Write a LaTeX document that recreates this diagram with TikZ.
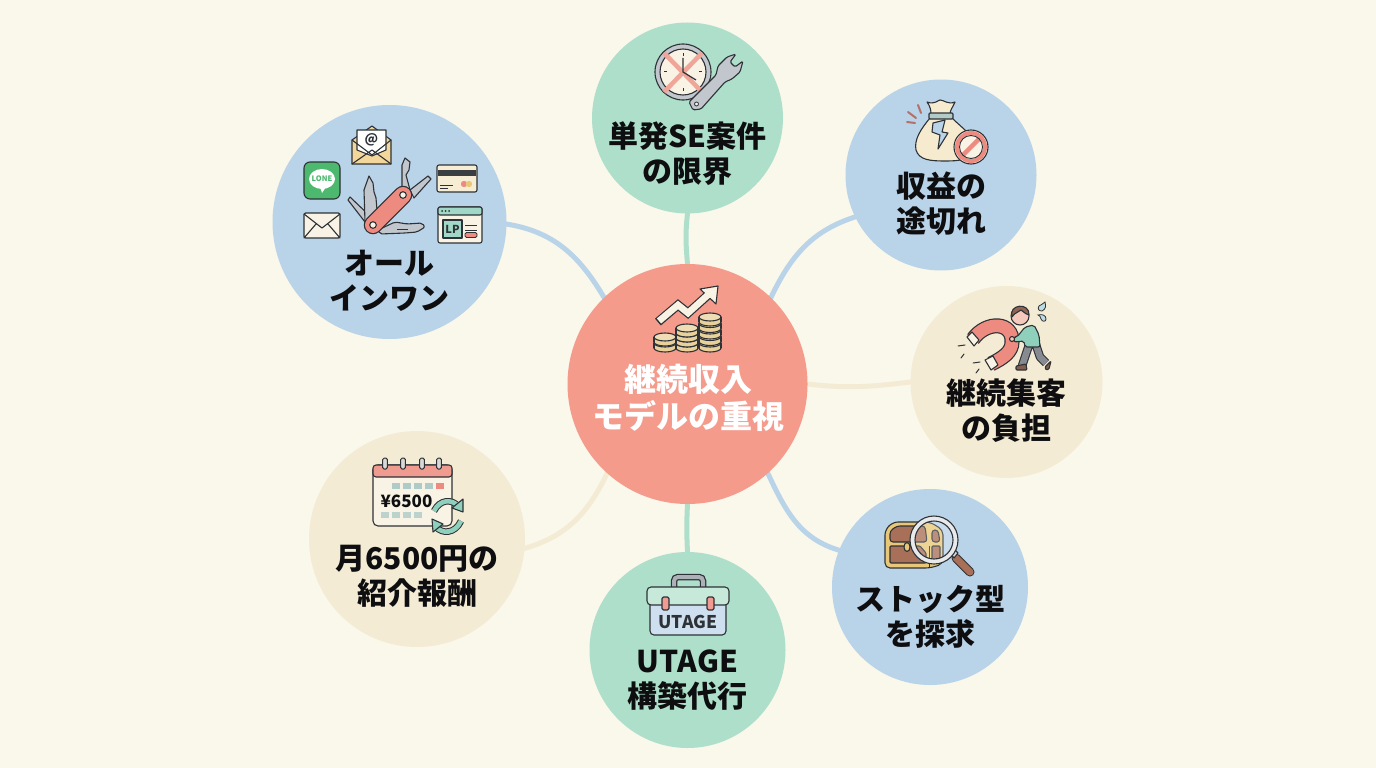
\documentclass[tikz,border=0pt]{standalone}
\usepackage{fontspec}
\setmainfont{Noto Sans CJK JP}
\definecolor{bgc}{HTML}{FAF7EB}
\definecolor{bluec}{HTML}{B9D3E9}
\definecolor{greenc}{HTML}{AEDFCA}
\definecolor{creamc}{HTML}{F4EBD4}
\definecolor{redc}{HTML}{F49B8C}
\definecolor{inkc}{HTML}{2E3236}
\definecolor{txtc}{HTML}{0E0E10}
\definecolor{paper}{HTML}{F8F3E4}
\definecolor{tan}{HTML}{F3D79A}
\definecolor{salmon}{HTML}{EE8B80}
\definecolor{steel}{HTML}{C2C7CE}
\definecolor{gold}{HTML}{E8C878}
\definecolor{coin}{HTML}{E9D19B}
\definecolor{brownc}{HTML}{A87058}
\definecolor{linegreen}{HTML}{4CB96E}
\definecolor{teal}{HTML}{8FD0BC}
\pgfdeclarelayer{back}
\pgfdeclarelayer{lines}
\pgfsetlayers{back,lines,main}
\tikzset{
 hubc/.style={circle,minimum size=#1pt,inner sep=0pt,outer sep=0pt},
 conn/.style={line width=5pt,shorten <=-3pt,shorten >=-3pt},
 lab/.style={font=\fontsize{30}{35}\selectfont\bfseries,text=txtc,align=center,inner sep=0pt},
 ink/.style={draw=inkc,line width=1.1pt,line join=round,line cap=round},
}
% x, top y, number of coins, spacing
\newcommand\coinstack[4]{%
 \foreach \k in {1,...,#3}{%
  \pgfmathsetmacro\yy{#2+(#3-\k)*#4}
  \filldraw[ink,fill=coin] (#1,\yy+5) ellipse [x radius=11pt,y radius=4pt];
  \fill[coin] (#1-10.5,\yy) rectangle (#1+10.5,\yy+5);
  \draw[ink] (#1-11,\yy) -- (#1-11,\yy+5) (#1+11,\yy) -- (#1+11,\yy+5);
  \filldraw[ink,fill=coin!65!paper] (#1,\yy) ellipse [x radius=11pt,y radius=4pt];
 }}
\begin{document}
\begin{tikzpicture}[x=1pt,y=-1pt]
\begin{pgfonlayer}{back}
\path[use as bounding box,fill=bgc] (0,0) rectangle (1376,768);
\end{pgfonlayer}
% circles
\node[hubc=240,fill=redc] (hub) at (687.5,384) {};
\node[hubc=191,fill=greenc] (top) at (687.5,118) {};
\node[hubc=191,fill=bluec] (tr) at (941,175) {};
\node[hubc=192,fill=creamc] (rr) at (1006.5,382) {};
\node[hubc=196,fill=bluec] (br) at (930,587) {};
\node[hubc=196,fill=greenc] (bot) at (687.5,650) {};
\node[hubc=216,fill=creamc] (bl) at (417,539) {};
\node[hubc=234,fill=bluec] (ll) at (389.5,222) {};
% connectors
\begin{pgfonlayer}{lines}
\draw[conn,greenc] (top.-90) to[out=-97,in=95] (hub.90);
\draw[conn,bluec] (tr.206) to[out=197,in=65] (hub.46);
\draw[conn,creamc] (rr.180) to[out=187,in=-7] (hub.0);
\draw[conn,bluec] (br.158) to[out=165,in=-65] (hub.-48);
\draw[conn,greenc] (bot.90) to[out=93,in=-93] (hub.-90);
\draw[conn,creamc] (bl.-5) to[out=15,in=-115] (hub.-132);
\draw[conn,bluec] (ll.-1) to[out=-8,in=120] (hub.134);
\end{pgfonlayer}
% labels
\node[lab,text=white,font=\fontsize{32}{37}\selectfont\bfseries] (t0) at (688,398) {継続収入\\モデルの重視};
\node[lab] (t1) at (687.5,153.5) {単発SE案件\\の限界};
\node[lab] (t2) at (941,203.5) {収益の\\途切れ};
\node[lab] (t3) at (1006,410.5) {継続集客\\の負担};
\node[lab] (t4) at (930,616.5) {ストック型\\を探求};
\node[lab] (t5) at (687.5,680.5) {UTAGE\\構築代行};
\node[lab] (t6) at (417,576.5) {月6500円の\\紹介報酬};
\node[lab] (t7) at (389.5,280.5) {オール\\インワン};

% === coins and arrow
\coinstack{665}{337}{2}{6}
\coinstack{687}{328}{4}{5}
\coinstack{710}{317}{5}{6.5}
\draw[inkc,line width=9pt,line join=miter] (658,322) -- (678,305) -- (688,313) -- (708,295);
\filldraw[ink,fill=paper] (700,289) -- (718,286) -- (716,304) -- cycle;
\draw[paper,line width=6.6pt,line join=miter] (659,321) -- (678,305) -- (688,313) -- (709,294);
\fill[inkc] (655.5,319) -- (660.5,325) -- (661,325) -- (656,319) -- cycle;

% === clock
\filldraw[ink,fill=steel] (683,72) circle (28);
\filldraw[ink,fill=paper] (683,72) circle (23);
\foreach \a/\b/\c/\d in {683/53/683/56,683/88/683/91,664/72/667/72,699/72/702/72}
  \draw[inkc,line width=1pt] (\a,\b) -- (\c,\d);
\draw[salmon!75!paper,line width=4.5pt] (664,53) -- (702,92) (702,53) -- (664,92);
\draw[inkc,line width=1.2pt] (683,58) -- (683,72) -- (696,80);
\filldraw[ink,fill=steel,rounded corners=1.5pt] (689,102) -- (716,75) -- (718,66) -- (727,57) -- (736,54) -- (730,62) -- (735,67) -- (743,61) -- (740,72) -- (732,79) -- (725,82) -- (701,109) -- (693,110) -- cycle;
\filldraw[ink,fill=paper,line width=.8pt] (696.5,104) circle (2);

% === money bag
\filldraw[ink,fill=paper!70!tan] (930,118) .. controls (920,130) and (914,140) .. (916,150) .. controls (919,160) and (930,161) .. (945,161) .. controls (960,161) and (972,160) .. (975,148) .. controls (977,138) and (962,128) .. (952,118) -- cycle;
\filldraw[ink,fill=paper!70!tan] (927,102) .. controls (935,105) and (938,100) .. (940,100) .. controls (944,100) and (948,105) .. (955,102) .. controls (953,107) and (950,110) .. (950,114) -- (931,114) .. controls (931,110) and (930,106) .. (927,102) -- cycle;
\filldraw[ink,fill=steel!70!teal,rounded corners=1pt] (929,113) rectangle (953,119);
\filldraw[ink,fill=bluec] (933,123) -- (945,120) -- (942,132) -- (948,133) -- (938,149) -- (940,135) -- (932,132) -- cycle;
\filldraw[ink,fill=paper] (971,147) circle (17);
\draw[salmon,line width=4pt] (971,147) circle (14);
\draw[salmon,line width=4.5pt] (961,157) -- (981,137);
\draw[inkc,line width=.9pt] (971,147) circle (11.5);
\draw[salmon!70!inkc,line width=2pt,line cap=round] (907,122) -- (915,123) (908,112) -- (916,118) (918,105) -- (921,113);

% === magnet and person
\draw[inkc,line width=15pt] (973,339) .. controls (987,320) and (1013,322) .. (1012,342) .. controls (1012,352) and (1003,358) .. (991,364);
\draw[salmon,line width=12.6pt] (973,339) .. controls (987,320) and (1013,322) .. (1012,342) .. controls (1012,352) and (1003,358) .. (991,364);
\filldraw[ink,fill=paper] (967,337) -- (972,332) -- (979,340) -- (974,346) -- cycle;
\filldraw[ink,fill=paper] (985,360) -- (993,356) -- (998,365) -- (991,370) -- cycle;
\draw[inkc,line width=1pt,line cap=round] (958,346) -- (965,345) (964,354) -- (961,358) (973,363) -- (980,362) (979,369) -- (976,373);
\draw[inkc,line width=8.6pt,line join=round] (1029,345) -- (1025,357) -- (1022,366) (1036,345) -- (1040,357) -- (1046,363);
\draw[steel!60!inkc,line width=6.4pt,line join=round] (1029,345) -- (1025,357) -- (1022,366) (1036,345) -- (1040,357) -- (1046,363);
\filldraw[ink,fill=brownc!70!inkc,rounded corners=1pt] (1016,366) -- (1026,364) -- (1027,370) -- (1016,370) -- cycle;
\filldraw[ink,fill=brownc!70!inkc,rounded corners=1pt] (1045,367) -- (1051,361) -- (1049,369) -- (1046,370) -- cycle;
\filldraw[ink,fill=teal,rounded corners=2pt] (1017,337) -- (1025,327) -- (1034,325) -- (1039,335) -- (1040,347) -- (1025,347) -- (1024,341) -- (1014,342) -- (1014,337) -- cycle;
\filldraw[ink,fill=paper!60!salmon] (1020,316) circle (9);
\filldraw[ink,fill=brownc!80!inkc] (1012,317) .. controls (1008,304) and (1030,302) .. (1029,315) .. controls (1025,314) and (1023,311) .. (1021,310) .. controls (1018,313) and (1015,312) .. (1012,317) -- cycle;
\filldraw[ink,fill=paper!60!salmon] (1012,339) circle (2.5);
\filldraw[draw=inkc,line width=.8pt,fill=teal!30!bluec!80!white] (1039,306) .. controls (1041,304) and (1044,304) .. (1045,302) .. controls (1046,306) and (1046,309) .. (1042,311) .. controls (1039,311) and (1037,309) .. (1039,306) -- cycle;
\filldraw[draw=inkc,line width=.8pt,fill=teal!30!bluec!80!white] (1041,319) .. controls (1040,316) and (1040,316) .. (1038,315) .. controls (1042,314) and (1046,315) .. (1046,319) .. controls (1046,322) and (1042,322) .. (1041,319) -- cycle;

% === chest and magnifier
\filldraw[ink,fill=gold,rounded corners=5pt] (885,568) -- (885,530) -- (893,522) -- (930,522) -- (943,530) -- (943,564) -- (930,568) -- cycle;
\filldraw[ink,fill=brownc,rounded corners=3pt] (890,542) -- (890,531) -- (897,526) -- (925,526) -- (927,542) -- cycle;
\filldraw[ink,fill=brownc,rounded corners=3pt] (932,542) -- (932,530) -- (938,530) -- (940,542) -- cycle;
\filldraw[ink,fill=brownc,rounded corners=1pt] (890,546) -- (920,546) -- (926,553) -- (926,563) -- (890,563) -- cycle;
\filldraw[ink,fill=brownc,rounded corners=1pt] (932,546) -- (940,546) -- (940,562) -- (932,563) -- cycle;
\filldraw[ink,fill=gold] (907,547) ellipse [x radius=3pt,y radius=4.5pt];
\draw[inkc,line width=1.1pt] (929.5,546) -- (929.5,568);
\draw[inkc,line width=9pt,line cap=round] (956,558) -- (970,572);
\draw[brownc,line width=7pt,line cap=round] (956,558) -- (970,572);
\draw[ink,fill=steel!70!white] (950,553) -- (954,549) -- (958,553) -- (954,558) -- cycle;
\fill[white,opacity=.22] (934,540) circle (19);
\filldraw[ink,fill=steel!40!white,even odd rule] (934,540) circle (24) (934,540) circle (19);

% === toolbox
\draw[inkc,line width=6.5pt,rounded corners=4pt] (674,590) -- (674,577) -- (703,577) -- (703,590);
\draw[steel!85!inkc,line width=4pt,rounded corners=4pt] (674,590) -- (674,577) -- (703,577) -- (703,590);
\filldraw[ink,fill=bluec!70!white,rounded corners=4pt] (650,600) rectangle (726,635);
\filldraw[ink,fill=greenc!70!white,rounded corners=4pt] (647,587) rectangle (729,605);
\foreach \xx in {662,707}{\filldraw[ink,fill=salmon!85!white,rounded corners=1.5pt] (\xx,597) rectangle (\xx+7,610);}
\node[font=\fontsize{17.5}{18}\selectfont\bfseries,text=inkc,inner sep=0pt] (ut) at (688,622) {UTAGE};

% === calendar
\filldraw[ink,fill=paper,rounded corners=5pt] (373,465) rectangle (452,526);
\filldraw[ink,fill=salmon!85!paper,rounded corners=3pt] (373,465) -- (452,465) -- (452,477) -- (373,477) -- cycle;
\foreach \xx in {385,403,422,439}{\filldraw[draw=inkc,line width=1pt,fill=steel!60!paper,rounded corners=1.5pt] (\xx-2.3,458) rectangle (\xx+2.3,469);}
\foreach \xx in {392,403,414,425}{\fill[teal!40!steel] (\xx,483) rectangle +(8,6);}
\fill[salmon] (436,483) rectangle +(8,6);
\foreach \xx in {381,392,403,414}{\fill[teal!40!steel!80!paper] (\xx,512) rectangle +(8,6);}
\node[font=\fontsize{17}{20}\selectfont\bfseries,text=txtc,inner sep=0pt] (yen) at (406.5,501) {¥6500};
\foreach \w/\c in {6.6/inkc,4.6/teal}{
 \draw[\c,line width=\w pt] (434,511) .. controls (440,499) and (452,499) .. (458,506);
 \draw[\c,line width=\w pt] (461,521) .. controls (455,534) and (442,534) .. (436,527);
}
\filldraw[ink,fill=teal] (452,508) -- (463,499) -- (463,512) -- cycle;
\filldraw[ink,fill=teal] (443,524) -- (432,519) -- (433,532) -- cycle;

% === swiss knife and apps
\filldraw[ink,fill=steel] (365,222) -- (348,200) -- (350,197) -- (372,218) -- cycle;
\filldraw[ink,fill=steel] (365,222) -- (364,190) -- (369,176) -- (373,183) -- (374,192) -- (376,198) -- (377,210) -- cycle;
\filldraw[ink,fill=steel] (402,194) -- (402,165) -- (405,158) -- (410,162) -- (409,170) -- (406,175) -- (410,190) -- cycle;
\filldraw[ink,fill=steel] (410,190) -- (428,176) -- (431,179) -- (414,198) -- cycle;
\filldraw[ink,fill=steel,rounded corners=2pt] (378,230) -- (395,222) -- (407,224) -- (422,223) -- (425,227) -- (417,232) -- (405,233) -- (380,234) -- cycle;
\draw[inkc,line width=.9pt] (397,229) -- (408,229);
\draw[inkc,line width=18.5pt,line cap=round] (373,225) -- (403,195);
\draw[salmon,line width=16pt,line cap=round] (373,225) -- (403,195);
\filldraw[ink,fill=paper] (373,225) circle (3.3) (403,195) circle (3.3);
% envelope
\filldraw[ink,fill=tan] (352,140) -- (372,126) -- (391,140) -- (391,164) -- (352,164) -- cycle;
\filldraw[ink,fill=white] (357,130) -- (386,130) -- (386,150) -- (372,156) -- (357,150) -- cycle;
\node[font=\fontsize{13}{14}\selectfont\bfseries,text=inkc,inner sep=0pt] (at) at (371.5,140) {@};
\draw[ink] (352,164) -- (372,150) -- (391,164) (352,140) -- (372,155) -- (391,140);
% line
\filldraw[ink,fill=linegreen,rounded corners=6pt] (304,162) rectangle (340,199);
\fill[white] (322,179) ellipse [x radius=13pt,y radius=10pt];
\fill[white] (320,187) -- (326,187) -- (322,193) -- cycle;
\node[font=\fontsize{7.5}{8}\selectfont\bfseries,text=linegreen,inner sep=0pt] (lo) at (322,179) {LONE};
% mail
\filldraw[ink,fill=paper,rounded corners=1.5pt] (304,213) rectangle (340,238);
\draw[ink] (304,214) -- (322,228) -- (340,214) (304,238) -- (316,224) (340,238) -- (328,224);
% card
\filldraw[ink,fill=paper!80!tan,rounded corners=2pt] (437,165) rectangle (477,192);
\fill[inkc!85!gray] (437.6,169.5) rectangle (476.4,176);
\fill[salmon] (464,184) circle (3.2);
\fill[gold] (469,184) circle (3.2);
\draw[inkc,line width=.9pt] (440,185) -- (453,185) (440,188) -- (448,188);
% lp
\filldraw[ink,fill=paper,rounded corners=2pt] (438,207) rectangle (482,243);
\filldraw[ink,fill=teal!85!white,rounded corners=2pt] (438,207) rectangle (482,215);
\fill[inkc] (442,211) circle (1) (445.5,211) circle (1) (449,211) circle (1);
\filldraw[ink,fill=teal!85!white] (443,220) rectangle (462,238);
\node[font=\fontsize{11}{12}\selectfont\bfseries,text=inkc,inner sep=0pt] (lp) at (452.5,229) {LP};
\draw[inkc,line width=.9pt] (465,225) -- (477,225) (465,230) -- (477,230);
\filldraw[draw=inkc,line width=.9pt,fill=salmon,rounded corners=1.5pt] (465,232.5) rectangle (477,237.5);
\end{tikzpicture}
\end{document}
